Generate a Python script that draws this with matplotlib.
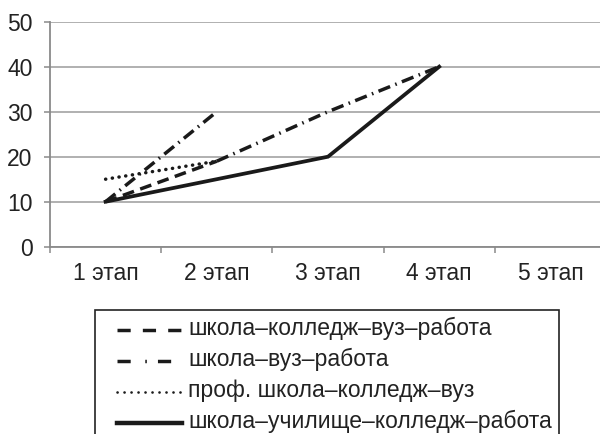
import numpy as np
import matplotlib
matplotlib.use('Agg')
import matplotlib.pyplot as plt
from matplotlib.lines import Line2D
from matplotlib.patches import Rectangle

plt.rcParams['font.family'] = ['Liberation Sans', 'DejaVu Sans']

stages = ['1 этап', '2 этап', '3 этап', '4 этап', '5 этап']
series_names = ['школа–колледж–вуз–работа', 'школа–вуз–работа',
                'проф. школа–колледж–вуз', 'школа–училище–колледж–работа']
kolledzh_vuz_rabota = [10, 19, 30, 40, np.nan]
vuz_rabota = [10, 30, np.nan, np.nan, np.nan]
prof_kolledzh_vuz = [15, 19, np.nan, np.nan, np.nan]
uchilishche_kolledzh = [10, 15, 20, 40, np.nan]
y_ticks = [0, 10, 20, 30, 40, 50]

W, H = 600, 434
fig = plt.figure(figsize=(W / 100, H / 100), dpi=100)
ax = fig.add_axes([50 / W, (H - 246.7) / H, 556 / W, 225 / H])

INK = '#1a1a1a'
TXT = '#222222'
LW = 2.5
GRID = '#a3a3a3'
AXC = '#8a8a8a'
FS = 16.5

x = np.arange(1, len(stages) + 1)

dashed = (0, (3.4, 1.9))
dashdot = (0, (3.6, 1.6, 0.45, 1.6))
dotted = (0, (0.05, 1.9))

# школа–колледж–вуз–работа: first leg dashed, then dash-dot
ax.plot(x[:2], kolledzh_vuz_rabota[:2], color=INK, lw=LW, linestyle=dashed, zorder=3)
ax.plot(x[1:], kolledzh_vuz_rabota[1:], color=INK, lw=LW, linestyle=dashdot, zorder=3)
ax.plot(x, vuz_rabota, color=INK, lw=LW, linestyle=dashdot, zorder=3)
ax.plot(x, prof_kolledzh_vuz, color=INK, lw=LW, linestyle=dotted,
        dash_capstyle='round', zorder=3)
ax.plot(x, uchilishche_kolledzh, color=INK, lw=LW + 0.2, linestyle='-',
        solid_joinstyle='miter', zorder=4)

ax.set_xlim(0.5, len(stages) + 0.5)
ax.set_ylim(0, 50)
ax.set_yticks(y_ticks)
ax.set_yticklabels([str(v) for v in y_ticks])
ax.yaxis.grid(True, color=GRID, lw=1.2)
ax.set_axisbelow(True)

ax.set_xticks(np.arange(0.5, len(stages) + 1, 1.0))
ax.set_xticklabels([])
ax.set_xticks(x, minor=True)
ax.set_xticklabels(stages, minor=True)
ax.tick_params(axis='x', which='major', length=4.5, width=1.1, color=AXC, direction='out')
ax.tick_params(axis='x', which='minor', length=0, pad=11, labelsize=FS, labelcolor=TXT)
ax.tick_params(axis='y', length=4.5, width=1.1, color=AXC, direction='out', pad=8,
               labelsize=FS, labelcolor=TXT)

for s in ['top', 'right']:
    ax.spines[s].set_visible(False)
for s in ['left', 'bottom']:
    ax.spines[s].set_color(AXC)
    ax.spines[s].set_linewidth(1.3)

# manual legend box (bottom edge runs off the figure, as in the reference)
def fx(px):
    return px / W

def fy(py):
    return (H - py) / H

box = Rectangle((fx(95), fy(445)), fx(559) - fx(95), fy(310) - fy(445),
                transform=fig.transFigure, fill=False, edgecolor=TXT,
                lw=1.2, zorder=5)
fig.patches.append(box)

leg_styles = [
    dict(linestyle=(0, (3.8, 3.5))),
    dict(linestyle=(0, (3.8, 4.2, 0.45, 3.2))),
    dict(linestyle=(0, (0.05, 2.6)), dash_capstyle='round', lw=1.9),
    dict(linestyle='-', lw=3.2),
]
baselines = [335, 366, 397, 428]
for name, st, base in zip(series_names, leg_styles, baselines):
    kw = dict(color=INK, lw=LW)
    kw.update(st)
    ln = Line2D([fx(117), fx(182)], [fy(base - 5.5)] * 2, transform=fig.transFigure, **kw)
    fig.lines.append(ln)
    fig.text(fx(188), fy(base), name, fontsize=FS, color=TXT,
             ha='left', va='baseline')

fig.savefig('out.png', dpi=100)
